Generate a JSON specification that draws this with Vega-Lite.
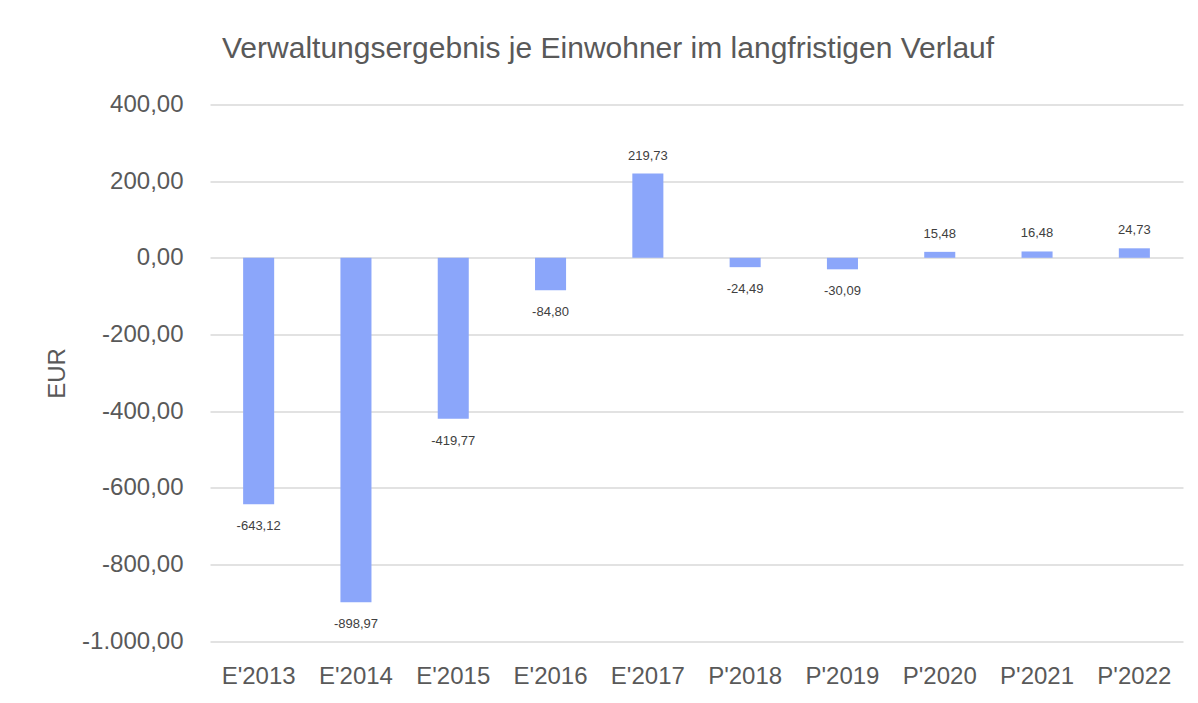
{
  "$schema": "https://vega.github.io/schema/vega-lite/v6.json",
  "width": 973,
  "height": 536.5,
  "autosize": {"type": "none"},
  "padding": {"left": 210, "top": 104.5, "right": 15, "bottom": 62},
  "background": "white",
  "config": {
    "font": "Liberation Sans",
    "view": {"stroke": null},
    "locale": {
      "number": {"decimal": ",", "thousands": ".", "grouping": [3], "currency": ["", " €"], "minus": "-"}
    }
  },
  "title": {
    "text": "Verwaltungsergebnis je Einwohner im langfristigen Verlauf",
    "anchor": "start",
    "frame": "group",
    "dx": 12,
    "offset": 5,
    "baseline": "alphabetic",
    "fontSize": 30,
    "fontWeight": "normal",
    "color": "#595959",
    "font": "Liberation Sans"
  },
  "data": {
    "values": [
      {"jahr": "E'2013", "wert": -643.12},
      {"jahr": "E'2014", "wert": -898.97},
      {"jahr": "E'2015", "wert": -419.77},
      {"jahr": "E'2016", "wert": -84.80},
      {"jahr": "E'2017", "wert": 219.73},
      {"jahr": "P'2018", "wert": -24.49},
      {"jahr": "P'2019", "wert": -30.09},
      {"jahr": "P'2020", "wert": 15.48},
      {"jahr": "P'2021", "wert": 16.48},
      {"jahr": "P'2022", "wert": 24.73}
    ]
  },
  "encoding": {
    "x": {
      "field": "jahr",
      "type": "nominal",
      "sort": null,
      "scale": {"paddingInner": 0.681, "paddingOuter": 0.3405},
      "axis": {
        "title": null,
        "labelAngle": 0,
        "labelFontSize": 24,
        "labelColor": "#595959",
        "labelPadding": 23,
        "labelBaseline": "top",
        "ticks": false,
        "domain": false,
        "grid": false
      }
    },
    "y": {
      "field": "wert",
      "type": "quantitative",
      "scale": {"domain": [-1000, 400], "nice": false, "zero": false},
      "axis": {
        "title": "EUR",
        "titleFontSize": 24,
        "titleFontWeight": "normal",
        "titleColor": "#595959",
        "titleX": -152.5,
        "titleY": 268.5,
        "titleAngle": -90,
        "titleAlign": "center",
        "titleBaseline": "middle",
        "values": [-1000, -800, -600, -400, -200, 0, 200, 400],
        "format": ",.2f",
        "labelFontSize": 24,
        "labelColor": "#595959",
        "labelPadding": 27,
        "ticks": false,
        "domain": false,
        "grid": true,
        "gridColor": "#d9d9d9",
        "gridWidth": 1.6
      }
    }
  },
  "layer": [
    {"mark": {"type": "bar", "color": "#8BA6FA"}},
    {
      "transform": [{"filter": "datum.wert >= 0"}],
      "mark": {"type": "text", "baseline": "alphabetic", "dy": -14, "fontSize": 13, "color": "#404040"},
      "encoding": {"text": {"field": "wert", "type": "quantitative", "format": ",.2f"}}
    },
    {
      "transform": [{"filter": "datum.wert < 0"}],
      "mark": {"type": "text", "baseline": "top", "dy": 16, "fontSize": 13, "color": "#404040"},
      "encoding": {"text": {"field": "wert", "type": "quantitative", "format": ",.2f"}}
    }
  ]
}
